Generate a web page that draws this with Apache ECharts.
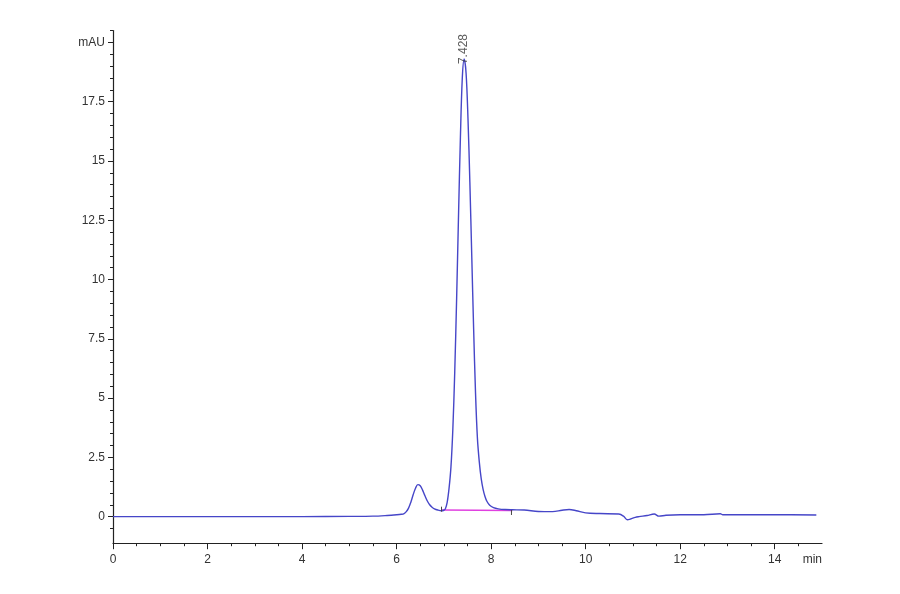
<!DOCTYPE html>
<html lang="en">
<head>
    <meta charset="UTF-8">
    <title>Chromatogram</title>
    <script src="https://cdn.jsdelivr.net/npm/echarts@6/dist/echarts.min.js"></script>
    <style>
      html, body { margin: 0; padding: 0; background: #fff; }
      #main { width: 900px; height: 594px; }
    </style>
</head>
<body>
    <div id="main"></div>
    <script type="text/javascript">
      // signal trace (min, mAU)
      var timeMin = [0, 1, 2, 3, 4, 5, 5.5, 5.8, 6.0, 6.1, 6.15, 6.2, 6.25, 6.3, 6.35, 6.4, 6.45, 6.5,
        6.55, 6.6, 6.65, 6.7, 6.75, 6.8, 6.87, 6.95, 7.0, 7.03, 7.07, 7.11, 7.15, 7.19, 7.23, 7.27,
        7.31, 7.35, 7.39, 7.43, 7.47, 7.51, 7.55, 7.59, 7.63, 7.67, 7.71, 7.75, 7.79, 7.83, 7.87,
        7.91, 7.97, 8.05, 8.15, 8.3, 8.45, 8.7, 9.0, 9.3, 9.5, 9.65, 9.8, 10.0, 10.3, 10.7, 10.8,
        10.88, 10.95, 11.05, 11.13, 11.3, 11.45, 11.55, 11.7, 12.0, 12.5, 12.85, 12.9, 13.5, 14.0, 14.88];
      var signal = [0, 0, 0, 0, 0, 0.01, 0.02, 0.05, 0.08, 0.1, 0.12, 0.2, 0.35, 0.6, 0.92, 1.2, 1.35, 1.3,
        1.12, 0.88, 0.66, 0.5, 0.4, 0.33, 0.28, 0.25, 0.27, 0.32, 0.6, 1.2, 2.1, 3.7, 6.1, 9.2,
        12.7, 16.0, 18.5, 19.3, 18.7, 16.8, 14.1, 11.0, 7.9, 5.2, 3.3, 2.3, 1.6, 1.15, 0.85,
        0.65, 0.48, 0.38, 0.33, 0.3, 0.29, 0.28, 0.22, 0.21, 0.27, 0.3, 0.25, 0.16, 0.13, 0.11, 0.02,
        -0.13, -0.1, -0.03, 0.0, 0.05, 0.11, 0.02, 0.06, 0.08, 0.08, 0.12, 0.08, 0.08, 0.08, 0.07];

      // integration baseline and its start / end markers
      var baseTime = [6.95, 8.45];
      var baseLevel = [0.28, 0.26];
      var markStart = [[6.95, 0.21], [6.95, 0.42]];
      var markEnd = [[8.43, 0.07], [8.43, 0.28]];

      // peak annotation
      var peakTime = 7.428;
      var peakHeight = 19.3;

      // axis ticks and labels
      var xMajor = [0, 2, 4, 6, 8, 10, 12, 14];
      var xLabels = [0, 2, 4, 6, 8, 10, 12, 14, 15];
      var xMinor = [0.5, 1, 1.5, 2.5, 3, 3.5, 4.5, 5, 5.5, 6.5, 7, 7.5, 8.5, 9, 9.5, 10.5, 11, 11.5,
        12.5, 13, 13.5, 14.5];
      var yMajor = [0, 2.5, 5, 7.5, 10, 12.5, 15, 17.5, 20];
      var yLabels = [0, 2.5, 5, 7.5, 10, 12.5, 15, 17.5, 20];
      var yMinor = [-0.5, 0.5, 1, 1.5, 2, 3, 3.5, 4, 4.5, 5.5, 6, 6.5, 7, 8, 8.5, 9, 9.5, 10.5, 11,
        11.5, 12, 13, 13.5, 14, 14.5, 15.5, 16, 16.5, 17, 18, 18.5, 19, 19.5, 20.5];

      var trace = [];
      for (var i = 0; i < timeMin.length; i++) {
        trace.push([timeMin[i], signal[i]]);
      }
      var baseline = [];
      for (var i = 0; i < baseTime.length; i++) {
        baseline.push([baseTime[i], baseLevel[i]]);
      }

      var labelFont = { fontFamily: 'Liberation Sans', fontSize: 12, color: '#333' };
      var axisColor = '#222';

      var myChart = echarts.init(document.getElementById('main'));
      var option = {
        animation: false,
        grid: { left: 113, right: 78, top: 30.6, bottom: 50.8, containLabel: false },
        xAxis: [
          {
            type: 'value', min: 0, max: 15,
            axisLine: { onZero: false, lineStyle: { color: axisColor, width: 1.2 } },
            axisTick: { customValues: xMajor, length: 6, lineStyle: { color: axisColor } },
            axisLabel: Object.assign({
              customValues: xLabels, margin: 10, alignMaxLabel: 'right',
              formatter: function (v) { return v === 15 ? 'min' : String(v); }
            }, labelFont),
            splitLine: { show: false }
          },
          {
            type: 'value', min: 0, max: 15, position: 'bottom',
            axisLine: { show: false, onZero: false },
            axisTick: { customValues: xMinor, length: 3, lineStyle: { color: axisColor } },
            axisLabel: { show: false },
            splitLine: { show: false }
          }
        ],
        yAxis: [
          {
            type: 'value', min: -1.12, max: 20.5,
            axisLine: { show: true, onZero: false, lineStyle: { color: axisColor, width: 1.2 } },
            axisTick: { show: true, customValues: yMajor, length: 5, lineStyle: { color: axisColor } },
            axisLabel: Object.assign({
              customValues: yLabels, margin: 8,
              formatter: function (v) { return v === 20 ? 'mAU' : String(v); }
            }, labelFont),
            splitLine: { show: false }
          },
          {
            type: 'value', min: -1.12, max: 20.5, position: 'left',
            axisLine: { show: false, onZero: false },
            axisTick: { show: true, customValues: yMinor, length: 3, lineStyle: { color: axisColor } },
            axisLabel: { show: false },
            splitLine: { show: false }
          }
        ],
        series: [
          {
            name: 'baseline', type: 'line', data: baseline, symbol: 'none',
            lineStyle: { color: '#e040e0', width: 1.3 }, z: 2
          },
          {
            name: 'signal', type: 'line', data: trace, symbol: 'none', smooth: 0.35,
            lineStyle: { color: '#4646c8', width: 1.4 }, z: 3
          },
          {
            name: 'start', type: 'line', data: markStart, symbol: 'none',
            lineStyle: { color: '#444', width: 1 }, z: 4
          },
          {
            name: 'end', type: 'line', data: markEnd, symbol: 'none',
            lineStyle: { color: '#444', width: 1 }, z: 4
          },
          {
            name: 'peak', type: 'scatter', data: [[peakTime, peakHeight]], symbolSize: 0,
            label: {
              show: true, formatter: String(peakTime), position: [0, 5], rotate: 90,
              align: 'left', verticalAlign: 'middle',
              fontFamily: 'Liberation Sans', fontSize: 12, color: '#333'
            },
            z: 5
          }
        ]
      };
      myChart.setOption(option);
    </script>
</body>
</html>
